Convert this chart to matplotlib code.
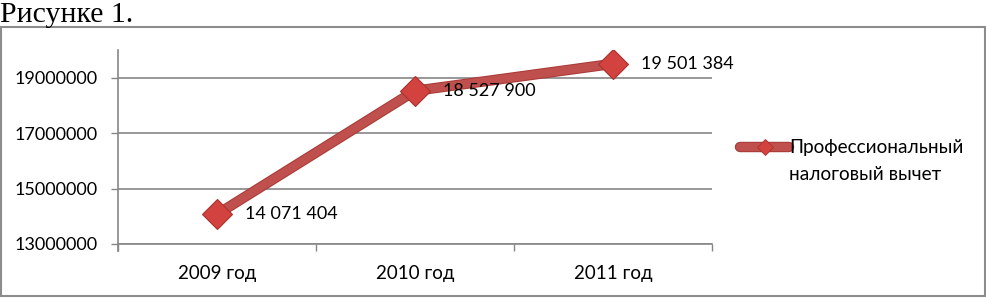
import matplotlib
matplotlib.use('Agg')
import matplotlib.pyplot as plt
import matplotlib.patheffects as pe
from matplotlib.patches import Rectangle
from matplotlib.lines import Line2D

years = ['2009 год', '2010 год', '2011 год']
deduction = [14071404, 18527900, 19501384]
y_ticks = [13000000, 15000000, 17000000, 19000000]
series_name = 'Профессиональный'
series_name_2 = 'налоговый вычет'

plt.rcParams['font.family'] = ['Lato', 'DejaVu Sans']

fig = plt.figure(figsize=(9.86, 2.98), dpi=100)
W, H = 986, 298

# caption above the chart
fig.text(0.0, (H - 22) / H, 'Рисунке 1.', family=['Liberation Serif'], fontsize=21.5,
         va='baseline', ha='left', color='black')

# chart frame
fig.add_artist(Rectangle((1 / W, 2 / H), 984 / W, 269 / H, transform=fig.transFigure,
                         fill=False, edgecolor='#8c8c8c', linewidth=1.5))

ax = fig.add_axes([118 / W, 54 / H, 594 / W, 194 / H])
x = range(len(years))

line_col = '#C0504D'
line_fx = [pe.Stroke(linewidth=7.5, foreground='#A83A37'), pe.Normal()]
ax.plot(x, deduction, color=line_col, linewidth=6, solid_capstyle='butt',
        zorder=3, path_effects=line_fx)
ax.plot(x, deduction, linestyle='none', marker='D', markersize=15,
        markerfacecolor='#D2423E', markeredgecolor='#A8332F', markeredgewidth=0.8, zorder=3)

for i, v in enumerate(deduction):
    lbl = f'{v:,}'.replace(',', ' ')
    ax.annotate(lbl, (i, v), xytext=(20, 0), textcoords='offset points',
                va='center', ha='left', fontsize=13, color='black', zorder=4)

ax.set_xlim(-0.5, len(years) - 0.5)
ax.set_ylim(13000000, 20000000)
ax.set_yticks(y_ticks)
ax.set_yticklabels([str(t) for t in y_ticks], fontsize=13)
ax.yaxis.grid(True, color='#868686', linewidth=1.2)
ax.set_axisbelow(True)

ax.set_xticks(list(x))
ax.set_xticklabels(years, fontsize=13.5)
ax.set_xticks([i - 0.5 for i in range(len(years) + 1)], minor=True)
ax.tick_params(axis='x', which='major', length=0, pad=15)
ax.tick_params(axis='x', which='minor', length=5, width=1, color='#868686', direction='out')
ax.tick_params(axis='y', length=5, width=1, color='#868686', pad=10)

for s in ['top', 'right']:
    ax.spines[s].set_visible(False)
ax.spines['bottom'].set_color('#868686')
ax.spines['left'].set_color('#868686')
ax.spines['left'].set_linewidth(1.2)
ax.spines['bottom'].set_linewidth(1.2)
ax.plot([0, 0], [0, -0.035], transform=ax.transAxes, color='#868686', lw=1.2, clip_on=False)

h_line = Line2D([], [], color=line_col, linewidth=6, solid_capstyle='round', path_effects=line_fx)
h_mark = Line2D([], [], linestyle='none', marker='D', markersize=8,
                markerfacecolor='#D2423E', markeredgecolor='#A8332F', markeredgewidth=0.6)
leg = fig.legend([(h_line, h_mark)], [series_name], loc='center left',
                 bbox_to_anchor=(740 / W, (H - 148) / H), frameon=False,
                 handlelength=2.6, handletextpad=0.0, borderpad=0, borderaxespad=0,
                 fontsize=13.7)

fig.canvas.draw()
tb = leg.get_texts()[0].get_window_extent()
fig.text(tb.x0 / W, (H - 175) / H, series_name_2, fontsize=13.7, va='center', ha='left')

fig.savefig('out.png', dpi=100)
